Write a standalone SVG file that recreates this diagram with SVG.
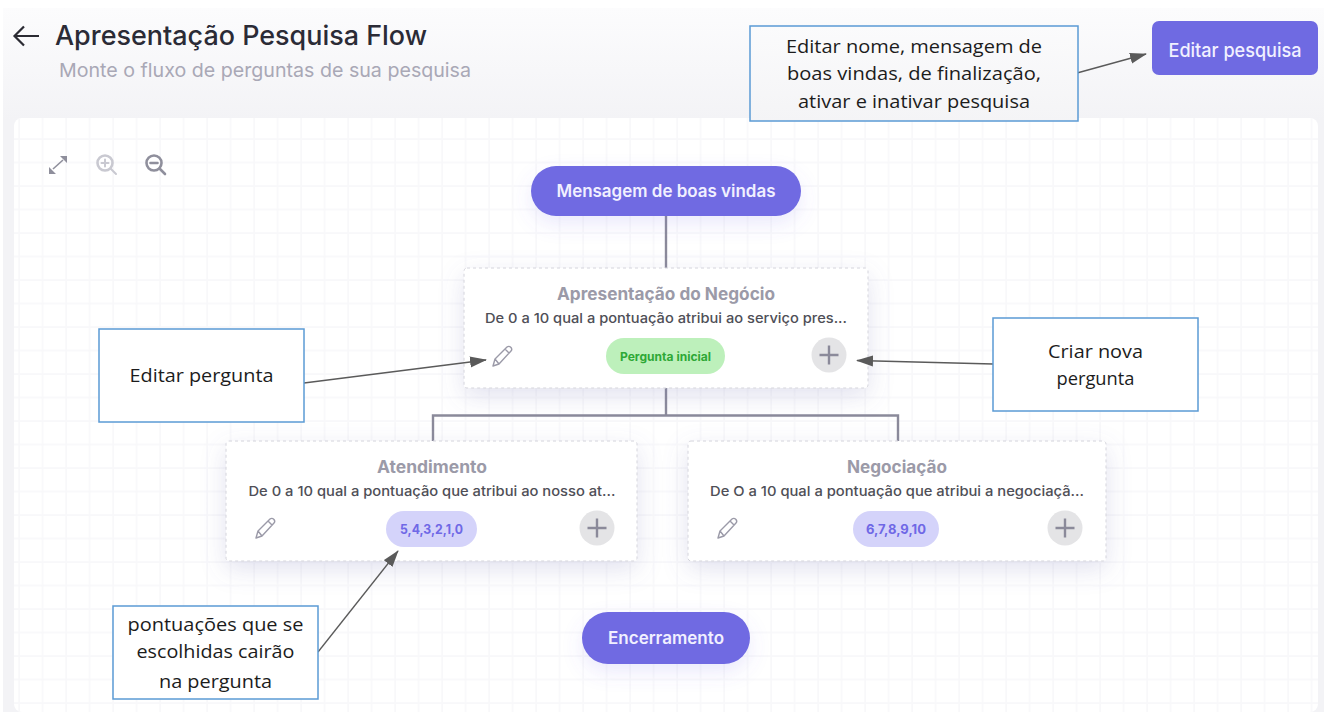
<svg xmlns="http://www.w3.org/2000/svg" width="1324" height="717" viewBox="0 0 1324 717">
<style>
text{font-family:"Inter","Liberation Sans",sans-serif;text-anchor:middle}
.ct{font-family:"Open Sans","Liberation Sans",sans-serif;font-size:18.500px;fill:#1c1c1c}
.callout{fill:#fff;stroke:#5b9bd5;stroke-width:1.500}
.callout2{fill:url(#pg);stroke:#5b9bd5;stroke-width:1.500}
.card{fill:#fff;stroke:#d4d4dc;stroke-width:1;stroke-dasharray:3 3;filter:url(#sh)}
.pill{fill:#6f6ae2}
.pt{fill:#f1f0ff;font-size:17px;font-weight:600}
.h{fill:#9b9aa8;font-size:17px;font-weight:700}
.d{fill:#4f4f57;font-size:13.500px;font-weight:500}
.plus{fill:#e4e4e6}
.pl{stroke:#8b8a9a;stroke-width:2.400;fill:none}
.pen{stroke:#9b9aa8;stroke-width:1.400;fill:none;stroke-linejoin:round}
.conn{stroke:#8b8a9a;stroke-width:2.400;fill:none}
.arr{stroke:#5a5a5a;stroke-width:1.300;fill:none;marker-end:url(#ah)}
.ic{fill:none;stroke-width:2.600;stroke-linecap:round}
</style>
<defs>
<linearGradient id="pg" x1="0" y1="0" x2="0" y2="1"><stop offset="0" stop-color="#fbfbfc"/><stop offset="1" stop-color="#f4f4f6"/></linearGradient>
<linearGradient id="bg" gradientUnits="userSpaceOnUse" x1="0" y1="8" x2="0" y2="120"><stop offset="0" stop-color="#fcfcfd"/><stop offset="1" stop-color="#f3f3f6"/></linearGradient>
<pattern id="grid" x="20" y="22.500" width="23.500" height="23.500" patternUnits="userSpaceOnUse"><path d="M23.500 0V23.500M0 23.500H23.500" fill="none" stroke="#f8f8fa" stroke-width="3.400"/></pattern>
<filter id="sh" x="-15%" y="-25%" width="130%" height="170%"><feDropShadow dx="0" dy="8" stdDeviation="12" flood-color="#6f6fb0" flood-opacity=".2"/></filter>
<filter id="sp" x="-20%" y="-40%" width="140%" height="220%"><feDropShadow dx="0" dy="8" stdDeviation="10" flood-color="#6f68e6" flood-opacity=".14"/></filter>
<marker id="ah" markerWidth="17" markerHeight="12" refX="16" refY="6" orient="auto" markerUnits="userSpaceOnUse"><path d="M0 0.500L17 6L0 11.500z" fill="#5a5a5a"/></marker>
<g id="pen"><path class="pen" d="M-9 10L-7 3L5 -9Q7 -10.500 9 -8.500Q10.500 -6.500 9 -5L-3 8z M-7 3L-3 8M3 -7L7 -3"/></g>
<g id="plusbtn"><circle class="plus" r="17.500"/><path class="pl" d="M-9.500 0H9.500M0 -9.500V9.500"/></g>
</defs>
<rect x="3" y="8" width="1321" height="704" fill="#f3f3f6"/>
<rect x="3" y="8" width="1321" height="112" fill="url(#bg)"/>
<g id="canvas">
<rect x="14" y="118" width="1304" height="594" rx="8" fill="#fff"/>
<rect x="14" y="118" width="1304" height="594" rx="8" fill="url(#grid)"/>
</g>
<g id="header">
<path d="M39 36H15M24 26.500L14.500 36L24 45.500" fill="none" stroke="#2b2b33" stroke-width="2.200"/>
<text x="241" y="45" font-size="27" font-weight="500" fill="#2b2b36" textLength="372" lengthAdjust="spacingAndGlyphs">Apresentação Pesquisa Flow</text>
<text x="265" y="77" font-size="19" fill="#a9a8b6" textLength="412" lengthAdjust="spacingAndGlyphs">Monte o fluxo de perguntas de sua pesquisa</text>
</g>
<g id="zoom-icons">
<path d="M53 169L63 160" fill="none" stroke="#8f8f9c" stroke-width="1.600"/>
<path d="M49 174V167L56 174zM67 156V163L60 156z" fill="#8f8f9c"/>
<g class="ic" stroke="#c9c9d1"><circle cx="105" cy="163" r="7.500"/><path d="M110.500 168.500L116 174M105 159.500V166.500M101.500 163H108.500" stroke-width="2"/></g>
<g class="ic" stroke="#8f8f9c"><circle cx="154" cy="163" r="7.500"/><path d="M159.500 168.500L165 174M150.500 163H157.500"/></g>
</g>
<g id="flow-connectors">
<path class="conn" d="M666 216V268"/>
<path class="conn" d="M666 388V415M433 441V415.500H898V441"/>
</g>
<g id="edit-survey"><rect x="1152" y="21" width="166" height="54" rx="7" class="pill"/><text x="1235" y="57" class="pt" style="font-size:19px;font-weight:500" textLength="133" lengthAdjust="spacingAndGlyphs">Editar pesquisa</text></g>
<g id="welcome"><rect x="531" y="166" width="270" height="50" rx="25" class="pill" filter="url(#sp)"/><text x="666" y="197" class="pt" textLength="219" lengthAdjust="spacingAndGlyphs">Mensagem de boas vindas</text></g>
<g id="q-apresentacao">
<rect x="464" y="268" width="404" height="120" rx="3" class="card"/>
<text x="666" y="300" class="h" textLength="218" lengthAdjust="spacingAndGlyphs">Apresentação do Negócio</text>
<text x="666" y="323" class="d" textLength="362" lengthAdjust="spacingAndGlyphs">De 0 a 10 qual a pontuação atribui ao serviço pres...</text>
<use href="#pen" x="502" y="356"/>
<rect x="606" y="338" width="119" height="36" rx="18" fill="#bdf0bb"/>
<text x="665.500" y="361" font-size="12" font-weight="700" fill="#2ea836" textLength="91" lengthAdjust="spacingAndGlyphs">Pergunta inicial</text>
<use href="#plusbtn" x="829" y="355"/>
</g>
<g id="q-atendimento">
<rect x="226" y="441" width="411" height="120" rx="3" class="card"/>
<text x="432" y="473" class="h" textLength="110" lengthAdjust="spacingAndGlyphs">Atendimento</text>
<text x="432" y="496" class="d" textLength="367" lengthAdjust="spacingAndGlyphs">De 0 a 10 qual a pontuação que atribui ao nosso at...</text>
<use href="#pen" x="265" y="528"/>
<rect x="386" y="511" width="91" height="36" rx="18" fill="#d4d3fa"/>
<text x="431.500" y="534" font-size="13" font-weight="700" fill="#6f68e6" textLength="63" lengthAdjust="spacingAndGlyphs">5,4,3,2,1,0</text>
<use href="#plusbtn" x="597" y="528"/>
</g>
<g id="q-negociacao">
<rect x="688" y="441" width="418" height="120" rx="3" class="card"/>
<text x="897" y="473" class="h" textLength="100" lengthAdjust="spacingAndGlyphs">Negociação</text>
<text x="897" y="496" class="d" textLength="374" lengthAdjust="spacingAndGlyphs">De O a 10 qual a pontuação que atribui a negociaçã...</text>
<use href="#pen" x="727" y="528"/>
<rect x="853" y="511" width="86" height="36" rx="18" fill="#d4d3fa"/>
<text x="896" y="534" font-size="13" font-weight="700" fill="#6f68e6" textLength="60" lengthAdjust="spacingAndGlyphs">6,7,8,9,10</text>
<use href="#plusbtn" x="1065" y="528"/>
</g>
<g id="end"><rect x="582" y="612" width="168" height="52" rx="26" class="pill" filter="url(#sp)"/><text x="666" y="644" class="pt" textLength="116" lengthAdjust="spacingAndGlyphs">Encerramento</text></g>
<g id="connectors">
<path class="arr" d="M1077 73L1146 54"/>
<path class="arr" d="M304 383L486 360"/>
<path class="arr" d="M993 364L857 360.500"/>
<path class="arr" d="M318 652L398 551"/>
</g>
<g id="note-edit-survey"><rect x="750" y="26" width="328" height="95" class="callout2"/>
<text class="ct" x="914" y="53" textLength="256" lengthAdjust="spacingAndGlyphs">Editar nome, mensagem de</text>
<text class="ct" x="914" y="80" textLength="254" lengthAdjust="spacingAndGlyphs">boas vindas, de finalização,</text>
<text class="ct" x="914" y="108" textLength="232" lengthAdjust="spacingAndGlyphs">ativar e inativar pesquisa</text></g>
<g id="note-edit-question"><rect x="99" y="329" width="205" height="93" class="callout"/><text class="ct" x="201.500" y="382" textLength="144" lengthAdjust="spacingAndGlyphs">Editar pergunta</text></g>
<g id="note-new-question"><rect x="993" y="318" width="205" height="93" class="callout"/>
<text class="ct" x="1095.500" y="358" textLength="95" lengthAdjust="spacingAndGlyphs">Criar nova</text>
<text class="ct" x="1095.500" y="385" textLength="78" lengthAdjust="spacingAndGlyphs">pergunta</text></g>
<g id="note-scores"><rect x="113" y="606" width="205" height="93" class="callout"/>
<text class="ct" x="215.500" y="631" textLength="176" lengthAdjust="spacingAndGlyphs">pontuações que se</text>
<text class="ct" x="215.500" y="658" textLength="158" lengthAdjust="spacingAndGlyphs">escolhidas cairão</text>
<text class="ct" x="215.500" y="688" textLength="113" lengthAdjust="spacingAndGlyphs">na pergunta</text></g>
</svg>
